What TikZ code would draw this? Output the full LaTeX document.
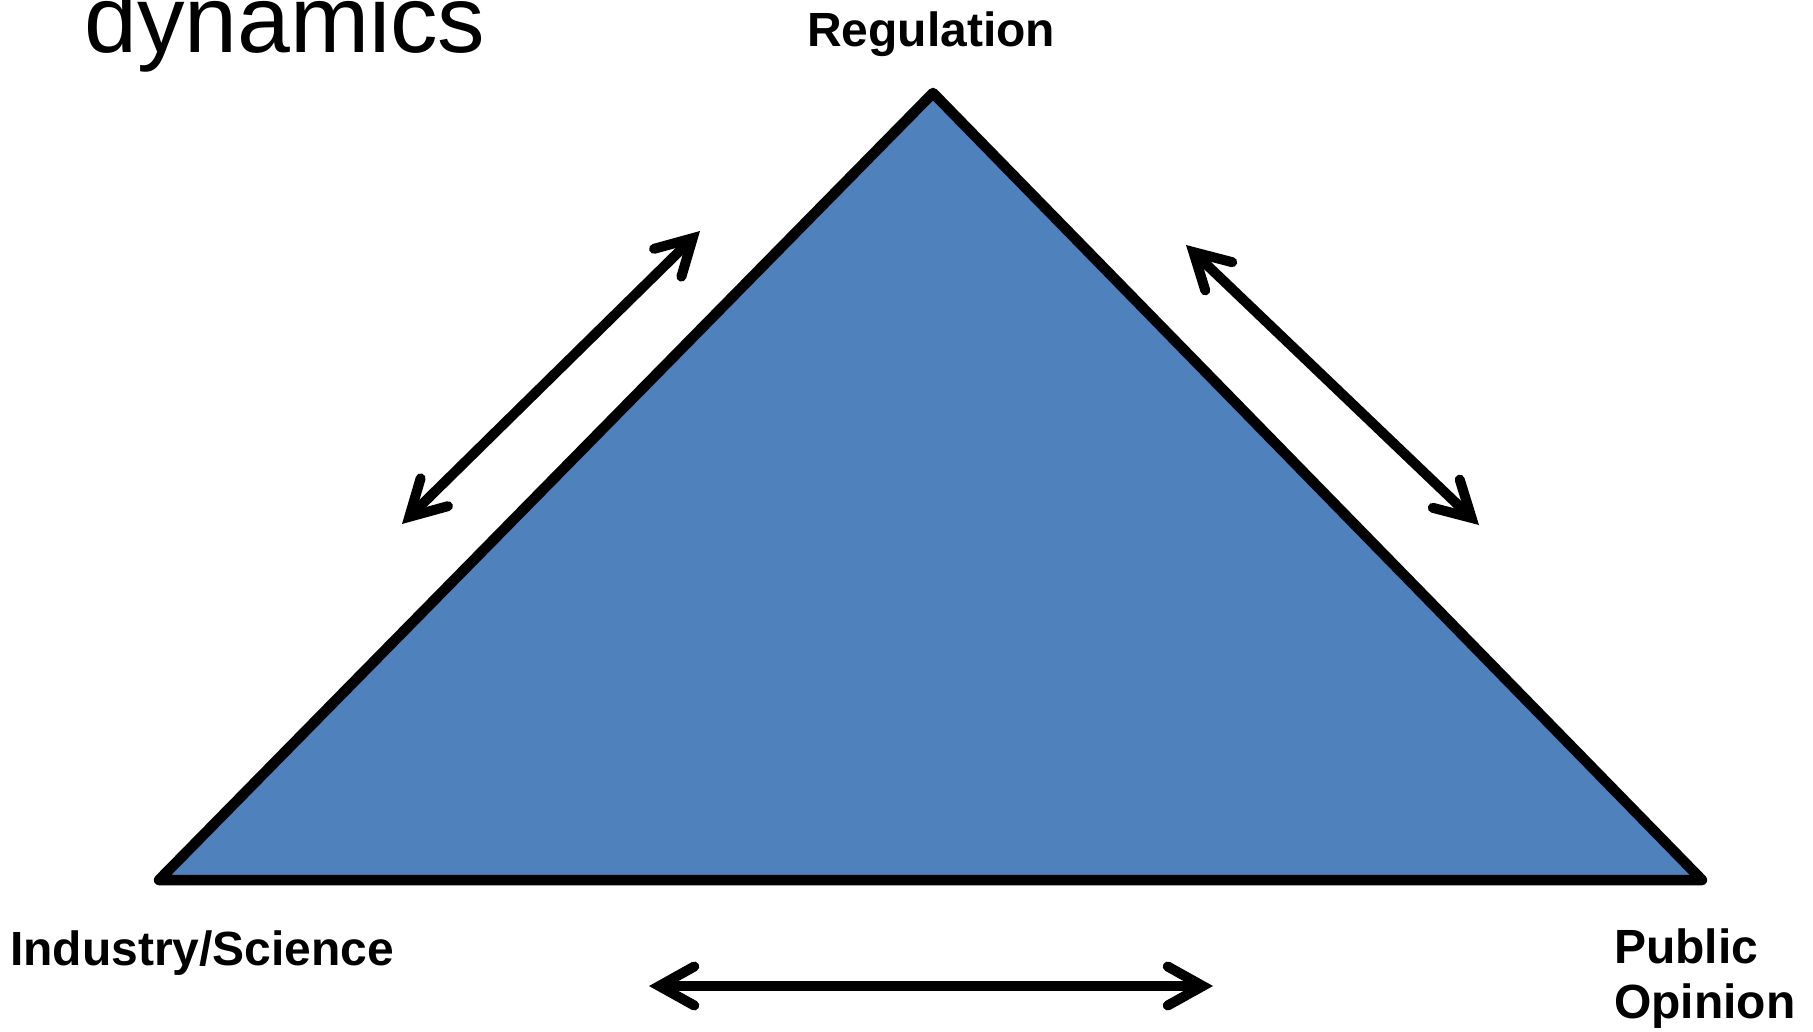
\documentclass[tikz,border=0pt]{standalone}
\usepackage{fontspec}
\setmainfont{Liberation Sans}
\usetikzlibrary{arrows.meta}
\definecolor{triblue}{HTML}{4F81BD}
\tikzset{
  label/.style={inner sep=0pt, font=\fontsize{48}{55}\selectfont\bfseries},
  dblarrow/.style={line width=10pt, line cap=round,
    {Straight Barb[length=35pt, width=39pt, line cap=round, line join=miter]}-{Straight Barb[length=35pt, width=39pt, line cap=round, line join=miter]}},
  tri/.style={line width=10.5pt, line join=round, fill=triblue, draw=black}
}
\begin{document}
\begin{tikzpicture}[x=1pt, y=-1pt]
\useasboundingbox (0,0) rectangle (1813,1032);
% title fragment
\node[inner sep=0pt, anchor=base west, font=\fontsize{95}{110}\selectfont] (title) at (84,53) {dynamics};
% triangle
\coordinate (top) at (933,93);
\coordinate (bl) at (159,880);
\coordinate (br) at (1702,880);
\draw[tri] (top) -- (br) -- (bl) -- cycle;
% labels
\node[label, anchor=base] (reg) at (931,47) {Regulation};
\node[label, anchor=base west] (ind) at (10,965) {Industry/Science};
\node[label, anchor=base west, align=left] (pub) at (1614,1018) {Public\\Opinion};
% arrows
\coordinate (la) at (402,524);
\coordinate (lb) at (700,231);
\coordinate (ra) at (1186,245);
\coordinate (rb) at (1479,525);
\coordinate (ba) at (649,986);
\coordinate (bb) at (1213,986);
\draw[dblarrow] (la) -- (lb);
\draw[dblarrow] (ra) -- (rb);
\draw[dblarrow] (ba) -- (bb);
\end{tikzpicture}
\end{document}
